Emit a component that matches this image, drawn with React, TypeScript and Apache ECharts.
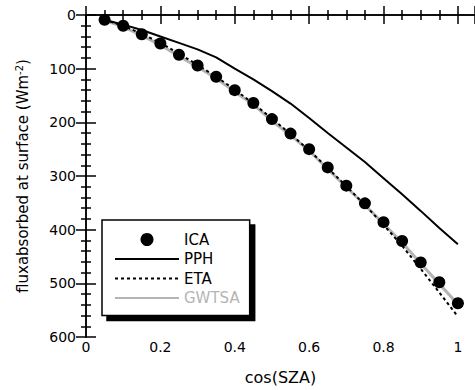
import React, { useEffect, useRef } from "react";
import * as echarts from "echarts";

// cos(SZA) sample points
const cosSza = [0.05, 0.1, 0.15, 0.2, 0.25, 0.3, 0.35, 0.4, 0.45, 0.5, 0.55, 0.6, 0.65, 0.7, 0.75, 0.8, 0.85, 0.9, 0.95, 1.0];

// flux absorbed at surface (W m^-2)
const icaFlux = [9, 20, 36, 53, 74, 94, 115, 140, 164, 194, 221, 250, 284, 318, 351, 386, 421, 461, 498, 537];
const pphFlux = [9, 18, 28, 40, 52, 64, 79, 100, 120, 142, 165, 192, 220, 247, 274, 304, 334, 365, 397, 427];
const etaFlux = [9, 20, 35, 52, 72, 93, 115, 139, 165, 193, 222, 252, 285, 319, 354, 391, 430, 473, 517, 562];
const gwtsaFlux = [10, 22, 38, 56, 77, 97, 118, 143, 167, 197, 224, 253, 287, 321, 354, 389, 424, 463, 501, 539];

const yTicks = [0, 100, 200, 300, 400, 500, 600];
const xTicks = [0, 0.2, 0.4, 0.6, 0.8, 1];

const pairs = (ys: number[]) => cosSza.map((x, i) => [x, ys[i]]);

const FONT = "'DejaVu Sans', Verdana, sans-serif";
const GREY = "#b4b4b4";

export default function App() {
  const ref = useRef<HTMLDivElement>(null);

  useEffect(() => {
    if (!ref.current) return;
    const chart = echarts.init(ref.current, null, { renderer: "svg" });

    const axisLine = { show: true, lineStyle: { color: "#000", width: 1.5 } };
    const tick = (len: number) => ({ show: true, inside: true, length: len, lineStyle: { color: "#000", width: 1.5 } });
    const minor = (n: number) => ({ show: true, splitNumber: n, length: 5, lineStyle: { color: "#000", width: 1.5 } });

    const xBase = {
      type: "value" as const,
      min: xTicks[0],
      max: 1.046,
      interval: 0.2,
      axisLine,
      axisTick: tick(9),
      minorTick: minor(4),
      splitLine: { show: false },
    };
    const yBase = {
      type: "value" as const,
      min: yTicks[0],
      max: yTicks[yTicks.length - 1],
      interval: 100,
      inverse: true,
      axisLine,
      axisTick: tick(10),
      minorTick: minor(5),
      splitLine: { show: false },
    };

    // line entries in the legend show only the stroke
    const lineOnly = { itemStyle: { opacity: 0 } };

    chart.setOption({
      animation: false,
      backgroundColor: "#fff",
      grid: { left: 86, right: 0, top: 15, bottom: 51, containLabel: false },
      xAxis: [
        {
          ...xBase,
          position: "bottom",
          name: "cos(SZA)",
          nameLocation: "middle",
          nameGap: 32,
          nameTextStyle: { fontFamily: FONT, fontSize: 16, color: "#000" },
          axisLabel: {
            show: true,
            margin: 3,
            showMaxLabel: false,
            fontFamily: FONT,
            fontSize: 14,
            color: "#000",
            formatter: (v: number) => (xTicks.some((t) => Math.abs(t - v) < 1e-6) ? String(+v.toFixed(1)) : ""),
          },
        },
        { ...xBase, position: "top", axisLabel: { show: false } },
      ],
      yAxis: [
        {
          ...yBase,
          position: "left",
          name: "fluxabsorbed at surface (Wm{sup|-2})",
          nameLocation: "middle",
          nameRotate: 90,
          nameGap: 54,
          nameTextStyle: {
            fontFamily: FONT,
            fontSize: 15,
            color: "#000",
            rich: { sup: { fontFamily: FONT, fontSize: 10, color: "#000", padding: [0, 0, 8, 0] } },
          },
          axisLabel: { show: true, margin: 10, fontFamily: FONT, fontSize: 14, color: "#000" },
        },
        { ...yBase, position: "right", axisLabel: { show: false } },
      ],
      legend: {
        orient: "vertical",
        left: 102,
        top: 220,
        padding: [10, 10, 8, 12],
        itemWidth: 64,
        itemHeight: 13,
        itemGap: 0.5,
        backgroundColor: "#fff",
        borderColor: "#000",
        borderWidth: 1.5,
        shadowColor: "#000",
        shadowBlur: 0,
        shadowOffsetX: 5,
        shadowOffsetY: 5,
        textStyle: { fontFamily: FONT, fontSize: 15, lineHeight: 19, color: "#000" },
        data: [
          { name: "ICA" },
          { name: "PPH", ...lineOnly },
          { name: "ETA", ...lineOnly },
          { name: "GWTSA", ...lineOnly, textStyle: { color: GREY } },
        ],
      },
      series: [
        {
          name: "GWTSA",
          type: "line",
          data: pairs(gwtsaFlux),
          symbol: "none",
          lineStyle: { color: GREY, width: 3 },
          itemStyle: { color: GREY },
          z: 1,
        },
        {
          name: "PPH",
          type: "line",
          data: pairs(pphFlux),
          symbol: "none",
          lineStyle: { color: "#000", width: 2 },
          itemStyle: { color: "#000" },
          z: 2,
        },
        {
          name: "ETA",
          type: "line",
          data: pairs(etaFlux),
          symbol: "none",
          lineStyle: { color: "#000", width: 2, type: [3, 3] },
          itemStyle: { color: "#000" },
          z: 3,
        },
        {
          name: "ICA",
          type: "scatter",
          data: pairs(icaFlux),
          symbol: "circle",
          symbolSize: 12,
          itemStyle: { color: "#000", opacity: 1 },
          z: 4,
        },
      ],
    });

    return () => chart.dispose();
  }, []);

  return <div ref={ref} style={{ width: 475, height: 390, position: "absolute", left: 0, top: 0 }} />;
}
